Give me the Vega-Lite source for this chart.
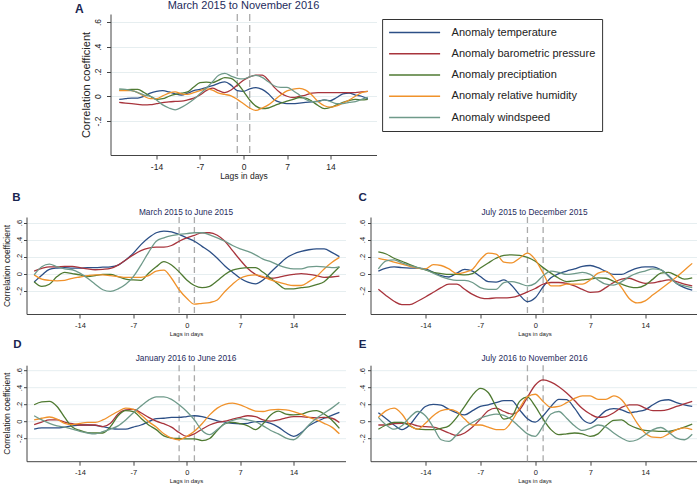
{
  "$schema": "https://vega.github.io/schema/vega-lite/v6.json",
  "background": "white",
  "padding": {"left": 1.5, "top": 0, "right": 0, "bottom": 0},
  "config": {
    "font": "Liberation Sans",
    "view": {"stroke": null},
    "axis": {"domainColor": "#444", "tickColor": "#444", "labelColor": "#222", "titleColor": "#222", "titleFontWeight": "normal", "gridColor": "#e6eef0", "gridWidth": 1},
    "title": {"color": "#1e2b5c", "fontWeight": "normal"},
    "line": {"strokeWidth": 1.3, "interpolate": "monotone"}
  },
  "datasets": {
    "A": [
      {"lag":-20,"t":-0.025,"b":-0.05,"p":0.05,"h":0.045,"w":0.06},
      {"lag":-19,"t":-0.02,"b":-0.055,"p":0.052,"h":0.045,"w":0.055},
      {"lag":-18,"t":-0.015,"b":-0.06,"p":0.055,"h":0.045,"w":0.045},
      {"lag":-17,"t":-0.015,"b":-0.065,"p":0.055,"h":0.03,"w":0.03},
      {"lag":-16,"t":0.0,"b":-0.07,"p":0.03,"h":0.0,"w":0.01},
      {"lag":-15,"t":0.025,"b":-0.068,"p":0.0,"h":-0.02,"w":0.0},
      {"lag":-14,"t":0.04,"b":-0.06,"p":-0.025,"h":-0.02,"w":-0.03},
      {"lag":-13,"t":0.045,"b":-0.052,"p":-0.02,"h":0.003,"w":-0.07},
      {"lag":-12,"t":0.035,"b":-0.045,"p":0.0,"h":0.025,"w":-0.095},
      {"lag":-11,"t":0.02,"b":-0.042,"p":0.015,"h":0.035,"w":-0.11},
      {"lag":-10,"t":0.01,"b":-0.04,"p":0.025,"h":0.02,"w":-0.09},
      {"lag":-9,"t":0.025,"b":-0.03,"p":0.035,"h":0.015,"w":-0.06},
      {"lag":-8,"t":0.045,"b":-0.015,"p":0.075,"h":0.03,"w":-0.025},
      {"lag":-7,"t":0.055,"b":0.01,"p":0.11,"h":0.045,"w":0.02},
      {"lag":-6,"t":0.07,"b":0.045,"p":0.115,"h":0.06,"w":0.065},
      {"lag":-5,"t":0.085,"b":0.065,"p":0.11,"h":0.05,"w":0.117},
      {"lag":-4,"t":0.105,"b":0.045,"p":0.13,"h":0.025,"w":0.17},
      {"lag":-3,"t":0.117,"b":0.03,"p":0.15,"h":0.015,"w":0.185},
      {"lag":-2,"t":0.09,"b":0.05,"p":0.145,"h":0.003,"w":0.163},
      {"lag":-1,"t":0.045,"b":0.09,"p":0.105,"h":-0.025,"w":0.145},
      {"lag":0,"t":0.04,"b":0.13,"p":0.04,"h":-0.06,"w":0.14},
      {"lag":1,"t":0.06,"b":0.157,"p":-0.03,"h":-0.095,"w":0.157},
      {"lag":2,"t":0.07,"b":0.17,"p":-0.08,"h":-0.115,"w":0.168},
      {"lag":3,"t":0.055,"b":0.17,"p":-0.1,"h":-0.095,"w":0.152},
      {"lag":4,"t":0.02,"b":0.13,"p":-0.095,"h":-0.07,"w":0.117},
      {"lag":5,"t":-0.03,"b":0.07,"p":-0.075,"h":-0.03,"w":0.083},
      {"lag":6,"t":-0.05,"b":0.025,"p":-0.055,"h":0.01,"w":0.072},
      {"lag":7,"t":-0.06,"b":0.0,"p":-0.04,"h":0.043,"w":0.072},
      {"lag":8,"t":-0.06,"b":-0.01,"p":-0.025,"h":0.058,"w":0.045},
      {"lag":9,"t":-0.055,"b":0.0,"p":-0.01,"h":0.064,"w":0.01},
      {"lag":10,"t":-0.05,"b":0.01,"p":-0.015,"h":0.05,"w":-0.025},
      {"lag":11,"t":-0.045,"b":0.025,"p":-0.04,"h":0.01,"w":-0.043},
      {"lag":12,"t":-0.04,"b":0.03,"p":-0.075,"h":-0.043,"w":-0.043},
      {"lag":13,"t":-0.03,"b":0.03,"p":-0.1,"h":-0.077,"w":-0.03},
      {"lag":14,"t":-0.035,"b":0.03,"p":-0.09,"h":-0.088,"w":-0.043},
      {"lag":15,"t":-0.01,"b":0.03,"p":-0.07,"h":-0.077,"w":-0.06},
      {"lag":16,"t":0.02,"b":0.03,"p":-0.05,"h":-0.056,"w":-0.06},
      {"lag":17,"t":0.025,"b":0.03,"p":-0.035,"h":-0.03,"w":-0.05},
      {"lag":18,"t":0.01,"b":0.03,"p":-0.025,"h":0.0,"w":-0.043},
      {"lag":19,"t":0.0,"b":0.035,"p":-0.03,"h":0.03,"w":-0.025},
      {"lag":20,"t":-0.02,"b":0.04,"p":-0.025,"h":0.04,"w":-0.01}
    ],
    "B": [
      {"lag":-20,"t":-0.1,"b":0.03,"p":-0.095,"h":-0.015,"w":-0.015},
      {"lag":-19,"t":-0.02,"b":0.06,"p":-0.15,"h":-0.065,"w":0.08},
      {"lag":-18,"t":0.05,"b":0.08,"p":-0.125,"h":-0.08,"w":0.11},
      {"lag":-17,"t":0.065,"b":0.08,"p":-0.035,"h":-0.085,"w":0.08},
      {"lag":-16,"t":0.07,"b":0.085,"p":0.015,"h":-0.08,"w":0.055},
      {"lag":-15,"t":0.065,"b":0.085,"p":0.0,"h":-0.055,"w":0.045},
      {"lag":-14,"t":0.065,"b":0.07,"p":-0.015,"h":-0.04,"w":0.005},
      {"lag":-13,"t":0.07,"b":0.055,"p":-0.035,"h":-0.025,"w":-0.055},
      {"lag":-12,"t":0.07,"b":0.045,"p":-0.025,"h":-0.015,"w":-0.125},
      {"lag":-11,"t":0.075,"b":0.05,"p":-0.01,"h":-0.015,"w":-0.19},
      {"lag":-10,"t":0.08,"b":0.06,"p":-0.01,"h":-0.025,"w":-0.21},
      {"lag":-9,"t":0.1,"b":0.1,"p":-0.035,"h":-0.035,"w":-0.18},
      {"lag":-8,"t":0.16,"b":0.16,"p":-0.065,"h":-0.045,"w":-0.125},
      {"lag":-7,"t":0.24,"b":0.22,"p":-0.075,"h":-0.045,"w":-0.035},
      {"lag":-6,"t":0.34,"b":0.27,"p":-0.08,"h":-0.045,"w":0.1},
      {"lag":-5,"t":0.42,"b":0.3,"p":0.005,"h":-0.025,"w":0.25},
      {"lag":-4,"t":0.48,"b":0.31,"p":0.08,"h":0.03,"w":0.38},
      {"lag":-3,"t":0.5,"b":0.31,"p":0.14,"h":0.04,"w":0.42},
      {"lag":-2,"t":0.49,"b":0.33,"p":0.1,"h":-0.055,"w":0.445},
      {"lag":-1,"t":0.46,"b":0.38,"p":0.02,"h":-0.19,"w":0.46},
      {"lag":0,"t":0.42,"b":0.42,"p":-0.075,"h":-0.29,"w":0.47},
      {"lag":1,"t":0.38,"b":0.45,"p":-0.14,"h":-0.36,"w":0.48},
      {"lag":2,"t":0.32,"b":0.48,"p":-0.165,"h":-0.35,"w":0.48},
      {"lag":3,"t":0.26,"b":0.48,"p":-0.15,"h":-0.34,"w":0.455},
      {"lag":4,"t":0.18,"b":0.45,"p":-0.085,"h":-0.31,"w":0.42},
      {"lag":5,"t":0.09,"b":0.38,"p":-0.01,"h":-0.21,"w":0.38},
      {"lag":6,"t":0.015,"b":0.27,"p":0.04,"h":-0.125,"w":0.33},
      {"lag":7,"t":-0.055,"b":0.16,"p":0.06,"h":-0.055,"w":0.29},
      {"lag":8,"t":-0.1,"b":0.06,"p":0.07,"h":-0.025,"w":0.26},
      {"lag":9,"t":-0.12,"b":-0.01,"p":0.07,"h":-0.015,"w":0.22},
      {"lag":10,"t":-0.075,"b":-0.045,"p":0.015,"h":-0.035,"w":0.17},
      {"lag":11,"t":0.015,"b":-0.055,"p":-0.055,"h":-0.075,"w":0.14},
      {"lag":12,"t":0.1,"b":-0.045,"p":-0.125,"h":-0.1,"w":0.1},
      {"lag":13,"t":0.18,"b":-0.025,"p":-0.18,"h":-0.125,"w":0.07},
      {"lag":14,"t":0.23,"b":-0.01,"p":-0.18,"h":-0.14,"w":0.055},
      {"lag":15,"t":0.26,"b":0.0,"p":-0.165,"h":-0.14,"w":0.055},
      {"lag":16,"t":0.28,"b":-0.01,"p":-0.155,"h":-0.095,"w":0.08},
      {"lag":17,"t":0.29,"b":-0.025,"p":-0.13,"h":-0.035,"w":0.085},
      {"lag":18,"t":0.29,"b":-0.045,"p":-0.095,"h":0.055,"w":0.08},
      {"lag":19,"t":0.25,"b":-0.04,"p":-0.01,"h":0.13,"w":0.07},
      {"lag":20,"t":0.2,"b":-0.03,"p":0.08,"h":0.19,"w":0.08}
    ],
    "C": [
      {"lag":-20,"t":0.03,"b":-0.185,"p":0.255,"h":0.18,"w":0.055},
      {"lag":-19,"t":0.065,"b":-0.26,"p":0.23,"h":0.16,"w":0.15},
      {"lag":-18,"t":0.08,"b":-0.325,"p":0.18,"h":0.135,"w":0.16},
      {"lag":-17,"t":0.07,"b":-0.365,"p":0.145,"h":0.11,"w":0.125},
      {"lag":-16,"t":0.065,"b":-0.365,"p":0.105,"h":0.085,"w":0.095},
      {"lag":-15,"t":0.065,"b":-0.325,"p":0.07,"h":0.065,"w":0.07},
      {"lag":-14,"t":0.055,"b":-0.275,"p":0.045,"h":0.055,"w":0.045},
      {"lag":-13,"t":0.015,"b":-0.22,"p":0.015,"h":0.105,"w":0.005},
      {"lag":-12,"t":-0.025,"b":-0.165,"p":0.0,"h":0.095,"w":-0.035},
      {"lag":-11,"t":-0.04,"b":-0.125,"p":-0.01,"h":0.055,"w":-0.065},
      {"lag":-10,"t":0.005,"b":-0.125,"p":-0.01,"h":0.0,"w":-0.08},
      {"lag":-9,"t":0.05,"b":-0.185,"p":-0.015,"h":0.015,"w":-0.08},
      {"lag":-8,"t":0.03,"b":-0.245,"p":0.0,"h":0.05,"w":-0.105},
      {"lag":-7,"t":-0.035,"b":-0.285,"p":0.065,"h":0.165,"w":-0.165},
      {"lag":-6,"t":-0.095,"b":-0.295,"p":0.125,"h":0.24,"w":-0.185},
      {"lag":-5,"t":-0.1,"b":-0.285,"p":0.18,"h":0.23,"w":-0.185},
      {"lag":-4,"t":-0.075,"b":-0.285,"p":0.215,"h":0.135,"w":-0.105},
      {"lag":-3,"t":-0.14,"b":-0.28,"p":0.22,"h":0.125,"w":-0.095},
      {"lag":-2,"t":-0.25,"b":-0.255,"p":0.215,"h":0.18,"w":-0.115},
      {"lag":-1,"t":-0.33,"b":-0.215,"p":0.19,"h":0.24,"w":-0.145},
      {"lag":0,"t":-0.285,"b":-0.175,"p":0.145,"h":0.165,"w":-0.115},
      {"lag":1,"t":-0.155,"b":-0.125,"p":0.07,"h":0.005,"w":-0.025},
      {"lag":2,"t":-0.05,"b":-0.105,"p":0.005,"h":-0.145,"w":0.03},
      {"lag":3,"t":0.0,"b":-0.105,"p":-0.055,"h":-0.145,"w":0.015},
      {"lag":4,"t":0.03,"b":-0.115,"p":-0.095,"h":-0.125,"w":-0.01},
      {"lag":5,"t":0.055,"b":-0.145,"p":-0.085,"h":-0.125,"w":0.0},
      {"lag":6,"t":0.085,"b":-0.185,"p":-0.075,"h":-0.125,"w":0.015},
      {"lag":7,"t":0.095,"b":-0.22,"p":-0.065,"h":-0.075,"w":-0.01},
      {"lag":8,"t":0.07,"b":-0.215,"p":-0.05,"h":0.005,"w":-0.075},
      {"lag":9,"t":0.025,"b":-0.165,"p":-0.055,"h":0.025,"w":-0.125},
      {"lag":10,"t":-0.01,"b":-0.105,"p":-0.09,"h":-0.05,"w":-0.135},
      {"lag":11,"t":-0.01,"b":-0.065,"p":-0.125,"h":-0.165,"w":-0.095},
      {"lag":12,"t":0.03,"b":-0.055,"p":-0.155,"h":-0.295,"w":-0.035},
      {"lag":13,"t":0.065,"b":-0.09,"p":-0.165,"h":-0.345,"w":0.005},
      {"lag":14,"t":0.08,"b":-0.115,"p":-0.135,"h":-0.32,"w":0.03},
      {"lag":15,"t":0.08,"b":-0.11,"p":-0.065,"h":-0.25,"w":0.055},
      {"lag":16,"t":0.045,"b":-0.09,"p":0.005,"h":-0.18,"w":0.045},
      {"lag":17,"t":-0.025,"b":-0.075,"p":0.015,"h":-0.11,"w":-0.035},
      {"lag":18,"t":-0.115,"b":-0.095,"p":-0.025,"h":-0.04,"w":-0.115},
      {"lag":19,"t":-0.165,"b":-0.125,"p":-0.065,"h":0.04,"w":-0.145},
      {"lag":20,"t":-0.195,"b":-0.145,"p":-0.05,"h":0.12,"w":-0.165}
    ],
    "D": [
      {"lag":-20,"t":-0.095,"b":-0.04,"p":0.195,"h":0.015,"w":0.065},
      {"lag":-19,"t":-0.08,"b":-0.01,"p":0.23,"h":0.035,"w":0.015},
      {"lag":-18,"t":-0.08,"b":0.015,"p":0.235,"h":0.05,"w":-0.025},
      {"lag":-17,"t":-0.08,"b":0.015,"p":0.175,"h":0.025,"w":-0.055},
      {"lag":-16,"t":-0.07,"b":-0.01,"p":0.045,"h":-0.025,"w":-0.07},
      {"lag":-15,"t":-0.055,"b":-0.03,"p":-0.07,"h":-0.04,"w":-0.095},
      {"lag":-14,"t":-0.045,"b":-0.045,"p":-0.11,"h":-0.025,"w":-0.12},
      {"lag":-13,"t":-0.045,"b":-0.045,"p":-0.135,"h":-0.015,"w":-0.14},
      {"lag":-12,"t":-0.05,"b":-0.045,"p":-0.14,"h":-0.015,"w":-0.15},
      {"lag":-11,"t":-0.065,"b":-0.065,"p":-0.14,"h":0.015,"w":-0.125},
      {"lag":-10,"t":-0.085,"b":-0.025,"p":-0.065,"h":0.065,"w":-0.095},
      {"lag":-9,"t":-0.095,"b":0.085,"p":0.065,"h":0.115,"w":-0.055},
      {"lag":-8,"t":-0.095,"b":0.135,"p":0.125,"h":0.155,"w":0.015},
      {"lag":-7,"t":-0.07,"b":0.14,"p":0.115,"h":0.14,"w":0.1},
      {"lag":-6,"t":-0.045,"b":0.1,"p":0.035,"h":0.075,"w":0.18},
      {"lag":-5,"t":-0.005,"b":0.045,"p":-0.045,"h":-0.005,"w":0.25},
      {"lag":-4,"t":0.03,"b":0.0,"p":-0.1,"h":-0.07,"w":0.29},
      {"lag":-3,"t":0.035,"b":-0.03,"p":-0.175,"h":-0.15,"w":0.29},
      {"lag":-2,"t":0.045,"b":-0.07,"p":-0.2,"h":-0.2,"w":0.26},
      {"lag":-1,"t":0.045,"b":-0.135,"p":-0.205,"h":-0.22,"w":0.195},
      {"lag":0,"t":0.055,"b":-0.18,"p":-0.21,"h":-0.18,"w":0.115},
      {"lag":1,"t":0.065,"b":-0.15,"p":-0.21,"h":-0.12,"w":0.015},
      {"lag":2,"t":0.055,"b":-0.095,"p":-0.23,"h":-0.03,"w":-0.11},
      {"lag":3,"t":0.03,"b":-0.045,"p":-0.205,"h":0.075,"w":-0.16},
      {"lag":4,"t":0.005,"b":-0.015,"p":-0.11,"h":0.155,"w":-0.1},
      {"lag":5,"t":-0.01,"b":0.0,"p":-0.03,"h":0.2,"w":-0.03},
      {"lag":6,"t":-0.025,"b":0.025,"p":-0.015,"h":0.215,"w":0.01},
      {"lag":7,"t":-0.03,"b":0.045,"p":-0.03,"h":0.195,"w":0.03},
      {"lag":8,"t":-0.025,"b":0.065,"p":-0.055,"h":0.155,"w":0.015},
      {"lag":9,"t":-0.005,"b":0.055,"p":-0.1,"h":0.12,"w":-0.005},
      {"lag":10,"t":-0.005,"b":0.015,"p":-0.03,"h":0.115,"w":-0.055},
      {"lag":11,"t":-0.025,"b":0.0,"p":0.075,"h":0.135,"w":-0.11},
      {"lag":12,"t":-0.07,"b":0.015,"p":0.12,"h":0.14,"w":-0.15},
      {"lag":13,"t":-0.135,"b":0.04,"p":0.085,"h":0.135,"w":-0.2},
      {"lag":14,"t":-0.18,"b":0.055,"p":0.075,"h":0.115,"w":-0.22},
      {"lag":15,"t":-0.135,"b":0.055,"p":0.08,"h":0.085,"w":-0.15},
      {"lag":16,"t":-0.055,"b":0.045,"p":0.115,"h":0.045,"w":-0.045},
      {"lag":17,"t":-0.005,"b":0.04,"p":0.125,"h":0.015,"w":0.035},
      {"lag":18,"t":0.035,"b":0.045,"p":0.085,"h":-0.025,"w":0.095},
      {"lag":19,"t":0.07,"b":0.035,"p":0.015,"h":-0.07,"w":0.155},
      {"lag":20,"t":0.105,"b":-0.015,"p":-0.085,"h":-0.15,"w":0.225}
    ],
    "E": [
      {"lag":-20,"t":0.1,"b":-0.045,"p":-0.095,"h":0.045,"w":0.045},
      {"lag":-19,"t":0.03,"b":-0.045,"p":-0.045,"h":0.125,"w":-0.045},
      {"lag":-18,"t":-0.045,"b":-0.03,"p":-0.015,"h":0.155,"w":-0.095},
      {"lag":-17,"t":-0.1,"b":-0.025,"p":-0.015,"h":0.085,"w":-0.055},
      {"lag":-16,"t":-0.045,"b":-0.03,"p":-0.055,"h":-0.045,"w":0.045},
      {"lag":-15,"t":0.075,"b":-0.055,"p":-0.095,"h":-0.095,"w":0.115},
      {"lag":-14,"t":0.175,"b":-0.065,"p":-0.1,"h":-0.025,"w":0.065},
      {"lag":-13,"t":0.2,"b":-0.07,"p":-0.1,"h":0.065,"w":-0.07},
      {"lag":-12,"t":0.19,"b":-0.1,"p":-0.085,"h":0.125,"w":-0.22},
      {"lag":-11,"t":0.14,"b":-0.14,"p":-0.055,"h":0.14,"w":-0.24},
      {"lag":-10,"t":0.1,"b":-0.17,"p":0.045,"h":0.115,"w":-0.16},
      {"lag":-9,"t":0.075,"b":-0.14,"p":0.175,"h":0.025,"w":-0.07},
      {"lag":-8,"t":0.125,"b":-0.07,"p":0.31,"h":-0.045,"w":-0.015},
      {"lag":-7,"t":0.175,"b":0.025,"p":0.39,"h":-0.045,"w":0.035},
      {"lag":-6,"t":0.195,"b":0.125,"p":0.34,"h":-0.07,"w":0.065},
      {"lag":-5,"t":0.22,"b":0.155,"p":0.175,"h":-0.1,"w":0.085},
      {"lag":-4,"t":0.245,"b":0.115,"p":0.025,"h":-0.1,"w":0.07},
      {"lag":-3,"t":0.245,"b":0.085,"p":0.055,"h":0.0,"w":0.015},
      {"lag":-2,"t":0.135,"b":0.135,"p":0.235,"h":0.155,"w":-0.07},
      {"lag":-1,"t":0.03,"b":0.285,"p":0.285,"h":0.29,"w":-0.15},
      {"lag":0,"t":-0.01,"b":0.43,"p":0.175,"h":0.32,"w":-0.18},
      {"lag":1,"t":0.065,"b":0.49,"p":0.025,"h":0.235,"w":-0.055},
      {"lag":2,"t":0.175,"b":0.465,"p":-0.1,"h":0.165,"w":0.085},
      {"lag":3,"t":0.26,"b":0.41,"p":-0.16,"h":0.175,"w":0.115},
      {"lag":4,"t":0.255,"b":0.335,"p":-0.15,"h":0.22,"w":0.035},
      {"lag":5,"t":0.155,"b":0.245,"p":-0.14,"h":0.27,"w":-0.055},
      {"lag":6,"t":0.025,"b":0.15,"p":-0.15,"h":0.3,"w":-0.11},
      {"lag":7,"t":-0.025,"b":0.085,"p":-0.18,"h":0.3,"w":-0.085},
      {"lag":8,"t":0.045,"b":0.045,"p":-0.15,"h":0.26,"w":-0.045},
      {"lag":9,"t":0.125,"b":0.055,"p":-0.055,"h":0.26,"w":-0.07},
      {"lag":10,"t":0.15,"b":0.1,"p":0.01,"h":0.3,"w":-0.14},
      {"lag":11,"t":0.135,"b":0.165,"p":0.015,"h":0.255,"w":-0.2},
      {"lag":12,"t":0.1,"b":0.195,"p":-0.045,"h":0.125,"w":-0.24},
      {"lag":13,"t":0.115,"b":0.195,"p":-0.085,"h":-0.025,"w":-0.22},
      {"lag":14,"t":0.135,"b":0.155,"p":-0.11,"h":-0.14,"w":-0.16},
      {"lag":15,"t":0.195,"b":0.125,"p":-0.115,"h":-0.19,"w":-0.1},
      {"lag":16,"t":0.245,"b":0.125,"p":-0.12,"h":-0.195,"w":-0.075},
      {"lag":17,"t":0.255,"b":0.14,"p":-0.12,"h":-0.15,"w":-0.13},
      {"lag":18,"t":0.22,"b":0.175,"p":-0.1,"h":-0.1,"w":-0.2},
      {"lag":19,"t":0.195,"b":0.205,"p":-0.07,"h":-0.08,"w":-0.22},
      {"lag":20,"t":0.175,"b":0.235,"p":-0.035,"h":-0.1,"w":-0.155}
    ]
  },
  "resolve": {"scale": {"color": "independent"}, "legend": {"color": "independent"}},
  "spacing": 12,
  "vconcat": [
    {
      "spacing": 0,
      "resolve": {"scale": {"color": "independent"}, "legend": {"color": "independent"}},
      "hconcat": [
        {"width": 47.2, "height": 1, "data": {"values": []}, "mark": "point"},
        {
          "title": {"text": "A", "anchor": "start", "frame": "bounds", "fontSize": 12, "fontWeight": "bold", "color": "#1a2550", "dx": -5.8, "offset": -15.6},
          "resolve": {"scale": {"color": "independent"}, "legend": {"color": "independent"}},
          "vconcat": [
            {
              "width": 266, "height": 141,
              "title": {"text": "March 2015 to November 2016", "fontSize": 11, "offset": 2.3},
              "layer": [
                {"data": {"values": [{"lag": -1}, {"lag": 1}]},
                 "mark": {"type": "rule", "strokeDash": [7, 4], "color": "#aaaaaa", "strokeWidth": 1.3},
                 "encoding": {"x": {"field": "lag", "type": "quantitative", "scale": {"domain": [-21.4, 21.4], "nice": false, "zero": false}}}},
                {"data": {"name": "A"},
                 "transform": [{"fold": ["t", "b", "p", "h", "w"], "as": ["series", "r"]}],
                 "mark": {"type": "line"},
                 "encoding": {
                   "x": {"field": "lag", "type": "quantitative", "scale": {"domain": [-21.4, 21.4], "nice": false, "zero": false},
                         "axis": {"values": [-14, -7, 0, 7, 14], "grid": false, "title": "Lags in days", "titleFontSize": 8.5, "labelFontSize": 8.5, "tickSize": 4, "labelPadding": 3, "titlePadding": 1, "labelExpr": "replace(datum.label, '\u2212', '-')"}},
                   "y": {"field": "r", "type": "quantitative", "scale": {"domain": [-0.475, 0.665], "nice": false, "zero": false},
                         "axis": {"values": [-0.2, 0, 0.2, 0.4, 0.6], "grid": true, "title": "Correlation coefficient", "titleFontSize": 11, "labelFontSize": 8.5, "labelAngle": -90, "tickSize": 4, "labelPadding": 4.4, "titlePadding": 1.3, "labelExpr": "datum.value == 0 ? '0' : replace(replace(format(datum.value, '.1f'), '0.', '.'), '\u2212', '-')"}},
                   "color": {"field": "series", "type": "nominal",
                             "scale": {"domain": ["t", "b", "p", "h", "w"], "range": ["#2c4f86", "#a8343c", "#4f7a32", "#f0922b", "#6f9a8a"]},
                             "legend": {"orient": "none", "legendX": 271.6, "legendY": 5, "title": null, "symbolType": "stroke", "symbolSize": 2601, "symbolStrokeWidth": 1.6, "labelFontSize": 11, "labelColor": "#222", "clipHeight": 15, "rowPadding": 6.25, "padding": 6, "labelOffset": 10.5, "symbolOffset": 0, "strokeColor": "#333", "fillColor": "white",
                                        "labelExpr": "datum.label == 't' ? 'Anomaly temperature' : datum.label == 'b' ? 'Anomaly barometric pressure' : datum.label == 'p' ? 'Anomaly preciptiation' : datum.label == 'h' ? 'Anomaly relative humidity' : 'Anomaly windspeed'"}}
                 }}
              ]
            }
          ]
        }
      ]
    },
    {
      "spacing": 2.2,
      "resolve": {"scale": {"color": "independent"}, "legend": {"color": "independent"}},
      "vconcat": [
        {
          "spacing": 12,
          "resolve": {"scale": {"color": "independent"}, "legend": {"color": "independent"}},
          "hconcat": [
            {
              "title": {"text": "B", "anchor": "start", "frame": "bounds", "fontSize": 11.5, "fontWeight": "bold", "color": "#1a2550", "dx": 10.2, "offset": 4},
              "vconcat": [
                {
                  "width": 319, "height": 97,
                  "title": {"text": "March 2015 to June 2015", "fontSize": 8.3, "offset": 0.5},
                  "layer": [
                    {"data": {"values": [{"lag": -1}, {"lag": 1}]},
                     "mark": {"type": "rule", "strokeDash": [6, 4], "color": "#aaaaaa", "strokeWidth": 1.3},
                     "encoding": {"x": {"field": "lag", "type": "quantitative", "scale": {"domain": [-21, 20.8], "nice": false, "zero": false}}}},
                    {"data": {"name": "B"},
                     "transform": [{"fold": ["t", "b", "p", "h", "w"], "as": ["series", "r"]}],
                     "mark": {"type": "line"},
                     "encoding": {
                       "x": {"field": "lag", "type": "quantitative", "scale": {"domain": [-21, 20.8], "nice": false, "zero": false},
                             "axis": {"values": [-14, -7, 0, 7, 14], "grid": false, "title": "Lags in days", "titleFontSize": 6, "labelFontSize": 7.5, "tickSize": 4, "labelPadding": 3.5, "titlePadding": 1.5, "labelExpr": "replace(datum.label, '\u2212', '-')"}},
                       "y": {"field": "r", "type": "quantitative", "scale": {"domain": [-0.475, 0.665], "nice": false, "zero": false},
                             "axis": {"values": [-0.2, 0, 0.2, 0.4, 0.6], "grid": true, "title": "Correlation coefficient", "titleFontSize": 8.5, "labelFontSize": 7.5, "labelAngle": -90, "tickSize": 3, "labelPadding": 0.5, "titlePadding": 4, "labelExpr": "datum.value == 0 ? '0' : replace(replace(format(datum.value, '.1f'), '0.', '.'), '\u2212', '-')"}},
                       "color": {"field": "series", "type": "nominal", "scale": {"domain": ["t", "b", "p", "h", "w"], "range": ["#2c4f86", "#a8343c", "#4f7a32", "#f0922b", "#6f9a8a"]}, "legend": null}
                     }}
                  ]
                }
              ]
            },
            {
              "title": {"text": "C", "anchor": "start", "frame": "bounds", "fontSize": 11.5, "fontWeight": "bold", "color": "#1a2550", "dx": 0.4, "offset": 4},
              "vconcat": [
                {
                  "width": 328, "height": 97,
                  "title": {"text": "July 2015 to December 2015", "fontSize": 8.3, "offset": 0.5},
                  "layer": [
                    {"data": {"values": [{"lag": -1}, {"lag": 1}]},
                     "mark": {"type": "rule", "strokeDash": [6, 4], "color": "#aaaaaa", "strokeWidth": 1.3},
                     "encoding": {"x": {"field": "lag", "type": "quantitative", "scale": {"domain": [-21, 20.8], "nice": false, "zero": false}}}},
                    {"data": {"name": "C"},
                     "transform": [{"fold": ["t", "b", "p", "h", "w"], "as": ["series", "r"]}],
                     "mark": {"type": "line"},
                     "encoding": {
                       "x": {"field": "lag", "type": "quantitative", "scale": {"domain": [-21, 20.8], "nice": false, "zero": false},
                             "axis": {"values": [-14, -7, 0, 7, 14], "grid": false, "title": "Lags in days", "titleFontSize": 6, "labelFontSize": 7.5, "tickSize": 4, "labelPadding": 3.5, "titlePadding": 1.5, "labelExpr": "replace(datum.label, '\u2212', '-')"}},
                       "y": {"field": "r", "type": "quantitative", "scale": {"domain": [-0.475, 0.665], "nice": false, "zero": false},
                             "axis": {"values": [-0.2, 0, 0.2, 0.4, 0.6], "grid": true, "title": null, "labelFontSize": 7.5, "labelAngle": -90, "tickSize": 3, "labelPadding": 1.5, "labelExpr": "datum.value == 0 ? '0' : replace(replace(format(datum.value, '.1f'), '0.', '.'), '\u2212', '-')"}},
                       "color": {"field": "series", "type": "nominal", "scale": {"domain": ["t", "b", "p", "h", "w"], "range": ["#2c4f86", "#a8343c", "#4f7a32", "#f0922b", "#6f9a8a"]}, "legend": null}
                     }}
                  ]
                }
              ]
            }
          ]
        },
        {
          "spacing": 12,
          "resolve": {"scale": {"color": "independent"}, "legend": {"color": "independent"}},
          "hconcat": [
            {
              "title": {"text": "D", "anchor": "start", "frame": "bounds", "fontSize": 11.5, "fontWeight": "bold", "color": "#1a2550", "dx": 11.2, "offset": 3},
              "vconcat": [
                {
                  "width": 319, "height": 96,
                  "title": {"text": "January 2016 to June 2016", "fontSize": 8.3, "offset": 2.5},
                  "layer": [
                    {"data": {"values": [{"lag": -1}, {"lag": 1}]},
                     "mark": {"type": "rule", "strokeDash": [6, 4], "color": "#aaaaaa", "strokeWidth": 1.3},
                     "encoding": {"x": {"field": "lag", "type": "quantitative", "scale": {"domain": [-21, 20.8], "nice": false, "zero": false}}}},
                    {"data": {"name": "D"},
                     "transform": [{"fold": ["t", "b", "p", "h", "w"], "as": ["series", "r"]}],
                     "mark": {"type": "line"},
                     "encoding": {
                       "x": {"field": "lag", "type": "quantitative", "scale": {"domain": [-21, 20.8], "nice": false, "zero": false},
                             "axis": {"values": [-14, -7, 0, 7, 14], "grid": false, "title": "Lags in days", "titleFontSize": 6, "labelFontSize": 7.5, "tickSize": 4, "labelPadding": 3.5, "titlePadding": 1.5, "labelExpr": "replace(datum.label, '\u2212', '-')"}},
                       "y": {"field": "r", "type": "quantitative", "scale": {"domain": [-0.475, 0.665], "nice": false, "zero": false},
                             "axis": {"values": [-0.2, 0, 0.2, 0.4, 0.6], "grid": true, "title": "Correlation coefficient", "titleFontSize": 8.5, "labelFontSize": 7.5, "labelAngle": -90, "tickSize": 3, "labelPadding": 0.5, "titlePadding": 4, "labelExpr": "datum.value == 0 ? '0' : replace(replace(format(datum.value, '.1f'), '0.', '.'), '\u2212', '-')"}},
                       "color": {"field": "series", "type": "nominal", "scale": {"domain": ["t", "b", "p", "h", "w"], "range": ["#2c4f86", "#a8343c", "#4f7a32", "#f0922b", "#6f9a8a"]}, "legend": null}
                     }}
                  ]
                }
              ]
            },
            {
              "title": {"text": "E", "anchor": "start", "frame": "bounds", "fontSize": 11.5, "fontWeight": "bold", "color": "#1a2550", "dx": 0.7, "offset": 3},
              "vconcat": [
                {
                  "width": 328, "height": 96,
                  "title": {"text": "July 2016 to November 2016", "fontSize": 8.3, "offset": 2.5},
                  "layer": [
                    {"data": {"values": [{"lag": -1}, {"lag": 1}]},
                     "mark": {"type": "rule", "strokeDash": [6, 4], "color": "#aaaaaa", "strokeWidth": 1.3},
                     "encoding": {"x": {"field": "lag", "type": "quantitative", "scale": {"domain": [-21, 20.8], "nice": false, "zero": false}}}},
                    {"data": {"name": "E"},
                     "transform": [{"fold": ["t", "b", "p", "h", "w"], "as": ["series", "r"]}],
                     "mark": {"type": "line"},
                     "encoding": {
                       "x": {"field": "lag", "type": "quantitative", "scale": {"domain": [-21, 20.8], "nice": false, "zero": false},
                             "axis": {"values": [-14, -7, 0, 7, 14], "grid": false, "title": "Lags in days", "titleFontSize": 6, "labelFontSize": 7.5, "tickSize": 4, "labelPadding": 3.5, "titlePadding": 1.5, "labelExpr": "replace(datum.label, '\u2212', '-')"}},
                       "y": {"field": "r", "type": "quantitative", "scale": {"domain": [-0.475, 0.665], "nice": false, "zero": false},
                             "axis": {"values": [-0.2, 0, 0.2, 0.4, 0.6], "grid": true, "title": null, "labelFontSize": 7.5, "labelAngle": -90, "tickSize": 3, "labelPadding": 1.5, "labelExpr": "datum.value == 0 ? '0' : replace(replace(format(datum.value, '.1f'), '0.', '.'), '\u2212', '-')"}},
                       "color": {"field": "series", "type": "nominal", "scale": {"domain": ["t", "b", "p", "h", "w"], "range": ["#2c4f86", "#a8343c", "#4f7a32", "#f0922b", "#6f9a8a"]}, "legend": null}
                     }}
                  ]
                }
              ]
            }
          ]
        }
      ]
    }
  ]
}
